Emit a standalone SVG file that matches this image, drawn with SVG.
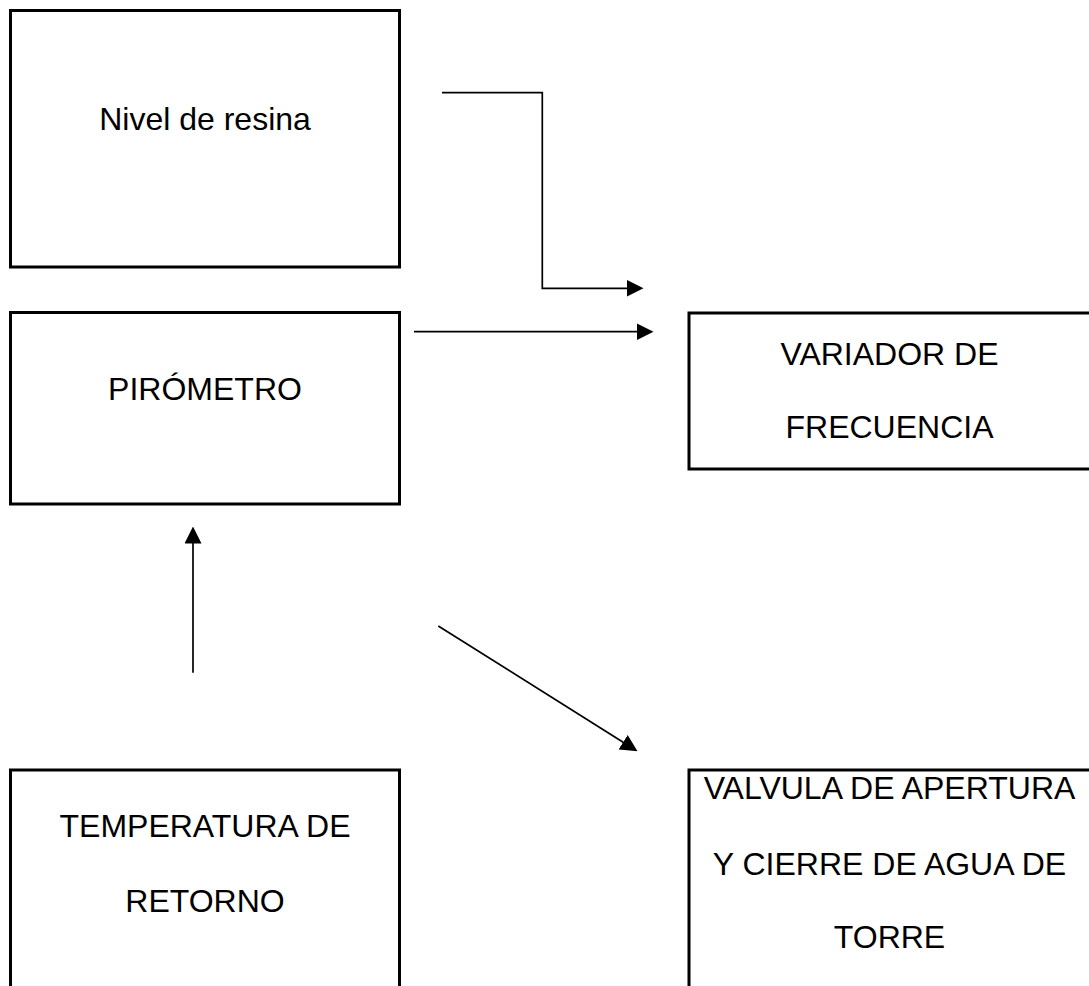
<svg xmlns="http://www.w3.org/2000/svg" width="1089" height="986" viewBox="0 0 1089 986">
  <style>
    .box { fill: #ffffff; stroke: #000000; stroke-width: 3; }
    .lbl { font-family: "Liberation Sans", Arial, sans-serif; font-size: 32px; fill: #000000; text-anchor: middle; }
    .conn { fill: none; stroke: #000000; stroke-width: 1.7; }
  </style>
  <defs>
    <marker id="arrow" markerUnits="userSpaceOnUse" markerWidth="17" markerHeight="17" refX="8" refY="8.5" orient="auto" viewBox="0 0 17 17">
      <path d="M0,0 L17,8.5 L0,17 z" fill="#000000"/>
    </marker>
  </defs>
  <rect x="0" y="0" width="1089" height="986" fill="#ffffff"/>

  <g id="node-nivel">
    <rect class="box" x="10.5" y="10.5" width="389" height="256.5"/>
    <text class="lbl" x="205" y="130">Nivel de resina</text>
  </g>

  <g id="node-pirometro">
    <rect class="box" x="10.5" y="312.5" width="389" height="191.5"/>
    <text class="lbl" x="205" y="400">PIRÓMETRO</text>
  </g>

  <g id="node-variador">
    <rect class="box" x="689" y="313" width="402" height="156"/>
    <text class="lbl" x="889.5" y="365">VARIADOR DE</text>
    <text class="lbl" x="889.5" y="438">FRECUENCIA</text>
  </g>

  <g id="node-temperatura">
    <rect class="box" x="10.5" y="770" width="389" height="240"/>
    <text class="lbl" x="205" y="837">TEMPERATURA DE</text>
    <text class="lbl" x="205" y="912">RETORNO</text>
  </g>

  <g id="node-valvula">
    <rect class="box" x="689" y="770" width="402" height="240"/>
    <text class="lbl" x="889.5" y="799">VALVULA DE APERTURA</text>
    <text class="lbl" x="889.5" y="875">Y CIERRE DE AGUA DE</text>
    <text class="lbl" x="889.5" y="948">TORRE</text>
  </g>

  <g id="connectors">
    <polyline class="conn" points="442,92.7 542.3,92.7 542.3,288.3 634.5,288.3" marker-end="url(#arrow)"/>
    <line class="conn" x1="414" y1="331.7" x2="644.5" y2="331.7" marker-end="url(#arrow)"/>
    <line class="conn" x1="193" y1="672.7" x2="193" y2="535.5" marker-end="url(#arrow)"/>
    <line class="conn" x1="438.3" y1="626" x2="629.9" y2="746.5" marker-end="url(#arrow)"/>
  </g>
</svg>
